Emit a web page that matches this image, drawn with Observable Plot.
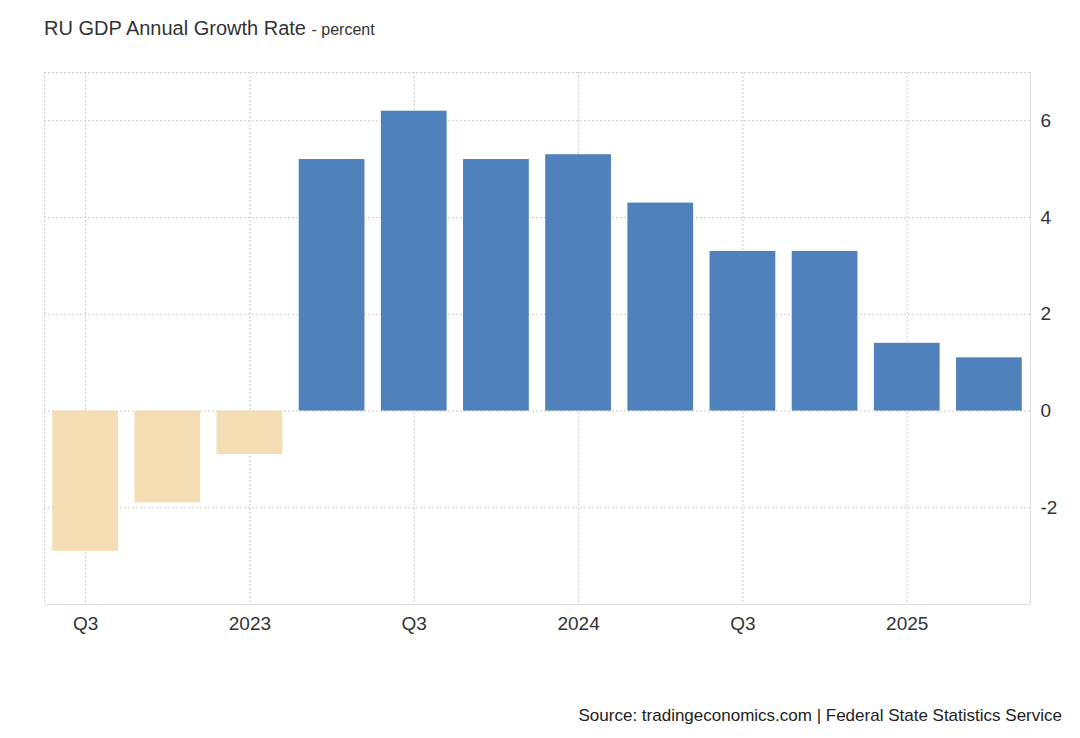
<!DOCTYPE html>
<html><head><meta charset="utf-8">
<script src="https://cdn.jsdelivr.net/npm/d3@7"></script>
<script src="https://cdn.jsdelivr.net/npm/@observablehq/plot@0.6"></script>
<style>
body{margin:0;width:1080px;height:738px;position:relative;font-family:Arial,"Liberation Sans",sans-serif;background:#fff;}
#title{position:absolute;left:44px;top:17px;font-size:20px;color:#333;}
#title span{font-size:16px;}
#chart{position:absolute;left:0;top:55px;}
#src{position:absolute;right:18px;top:706px;font-size:17px;color:#222;}
</style></head><body>
<div id="title">RU GDP Annual Growth Rate <span>- percent</span></div>
<div id="chart"></div>
<div id="src">Source: tradingeconomics.com | Federal State Statistics Service</div>
<script>
const quarters = ["2022Q3","2022Q4","2023Q1","2023Q2","2023Q3","2023Q4","2024Q1","2024Q2","2024Q3","2024Q4","2025Q1","2025Q2"];
const values = [-2.9,-1.9,-0.9,5.2,6.2,5.2,5.3,4.3,3.3,3.3,1.4,1.1];
const tickLabels = {"2022Q3":"Q3","2023Q1":"2023","2023Q3":"Q3","2024Q1":"2024","2024Q3":"Q3","2025Q1":"2025"};
const yTicks = [-2,0,2,4,6];
const data = quarters.map((q,i)=>({q,v:values[i]}));
const tickKeys = Object.keys(tickLabels);
const plot = Plot.plot({
  width:1080,height:600,marginTop:17,marginLeft:44,marginRight:50,marginBottom:51,
  style:{fontSize:"19px",fontFamily:"Arial, 'Liberation Sans', sans-serif",color:"#333"},
  x:{type:"band",domain:quarters,paddingInner:0.2,paddingOuter:0.1,round:false,label:null,ticks:tickKeys,tickFormat:d=>tickLabels[d],tickSize:0,tickPadding:12},
  y:{domain:[-4,7],ticks:yTicks,label:null,axis:"right",tickSize:0,tickPadding:10,tickFormat:d=>String(d)},
  marks:[
    Plot.gridY(yTicks.concat([7]),{stroke:"#ccc",strokeOpacity:1,strokeDasharray:"2,2"}),
    Plot.ruleX(tickKeys,{x:d=>d,stroke:"#ccc",strokeDasharray:"2,2"}),
    Plot.ruleX([0],{x:()=>quarters[0],dx:-41,stroke:"#ccc",strokeDasharray:"2,2"}),
    Plot.barY(data,{x:"q",y:"v",fill:d=>d.v<0?"#f5deb3":"#4f81bd"}),
    Plot.ruleY([-4],{stroke:"#ddd"}),
    Plot.ruleX([0],{x:()=>quarters[11],dx:41,stroke:"#ddd"})
  ]
});
document.getElementById("chart").appendChild(plot);
</script></body></html>
